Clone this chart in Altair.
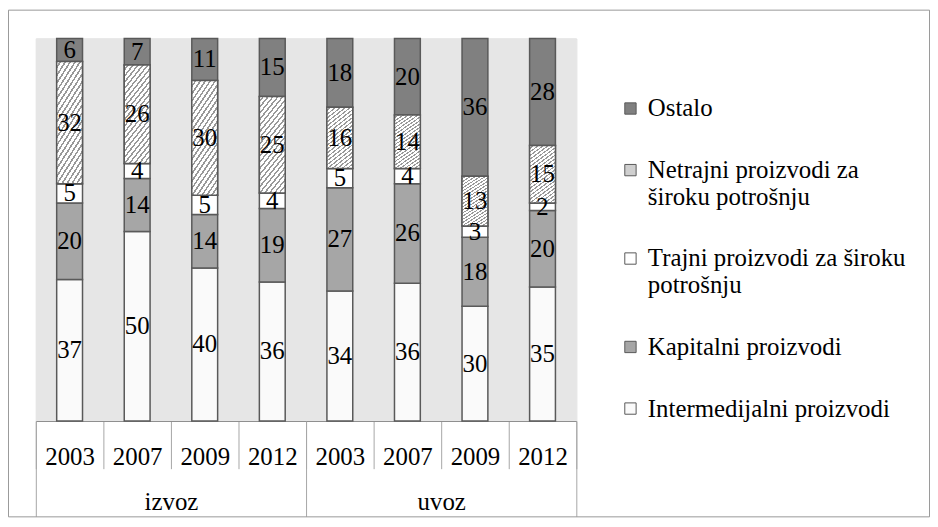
import altair as alt
import pandas as pd

groups = ["izvoz"] * 4 + ["uvoz"] * 4
years = ["2003", "2007", "2009", "2012"] * 2
categories = [
    "Intermedijalni proizvodi",
    "Kapitalni proizvodi",
    "Trajni proizvodi za široku potrošnju",
    "Netrajni proizvodi za široku potrošnju",
    "Ostalo",
]
intermedijalni = [37, 50, 40, 36, 34, 36, 30, 35]
kapitalni = [20, 14, 14, 19, 27, 26, 18, 20]
trajni = [5, 4, 5, 4, 5, 4, 3, 2]
netrajni = [32, 26, 30, 25, 16, 14, 13, 15]
ostalo = [6, 7, 11, 15, 18, 20, 36, 28]
fills = ["#fafafa", "#a6a6a6", "#ffffff", "#cfcfcf", "#808080"]

series = [intermedijalni, kapitalni, trajni, netrajni, ostalo]
rows = []
for ci, (cat, vals) in enumerate(zip(categories, series)):
    for g, y, v in zip(groups, years, vals):
        rows.append({"key": f"{g}|{y}", "group": g, "year": y, "cat": cat,
                     "order": ci, "value": v})
df = pd.DataFrame(rows)
keys = [f"{g}|{y}" for g, y in zip(groups, years)]
group_names = list(dict.fromkeys(groups))
legend_order = categories[::-1]
legend_colors = fills[::-1]

FONT = "Times New Roman, Liberation Serif, serif"

label_expr = (
    "datum.label == 'Netrajni proizvodi za široku potrošnju' ? ['Netrajni proizvodi za', 'široku potrošnju'] : "
    "datum.label == 'Trajni proizvodi za široku potrošnju' ? ['Trajni proizvodi za široku', 'potrošnju'] : datum.label"
)

# diagonal hatch fill (style only) built as a striped linear gradient
N_STRIPES = 21
SLOPE = 3.0
a = (1 + SLOPE) / (1 + SLOPE ** 2)
stops = []
for i in range(N_STRIPES):
    stops += [
        alt.GradientStop(offset=i / N_STRIPES, color="#ffffff"),
        alt.GradientStop(offset=(i + 0.62) / N_STRIPES, color="#ffffff"),
        alt.GradientStop(offset=(i + 0.62) / N_STRIPES, color="#999999"),
        alt.GradientStop(offset=(i + 1) / N_STRIPES, color="#999999"),
    ]
hatch = alt.LinearGradient(gradient="linear", stops=stops, x1=0, y1=0, x2=a, y2=a * SLOPE)

base = alt.Chart(df).transform_stack(
    stack="value", groupby=["key"], as_=["y0", "y1"],
    sort=[alt.SortField("order", order="ascending")], offset="normalize"
).transform_calculate(mid="(datum.y0 + datum.y1) / 2")

xscale = alt.Scale(domain=keys, paddingInner=0, paddingOuter=0)
year_axis = alt.Axis(title=None, labelExpr="split(datum.label, '|')[1]",
                     tickBand="extent", tickSize=48, tickColor="#a6a6a6",
                     domainColor="#8c8c8c", labelFontSize=25, labelFont=FONT,
                     labelColor="black", labelAngle=0, labelBaseline="middle",
                     labelPadding=-12)
yenc = alt.Y("y0:Q", scale=alt.Scale(domain=[0, 1]), axis=None)

bars = base.mark_bar(width=26, stroke="#595959", strokeWidth=1.5).encode(
    x=alt.X("key:N", sort=keys, scale=xscale, axis=year_axis),
    y=yenc,
    y2="y1:Q",
    color=alt.Color("cat:N", scale=alt.Scale(domain=legend_order, range=legend_colors),
                    legend=alt.Legend(title=None, orient="none", legendX=586, legendY=58,
                                      symbolType="square", symbolSize=130,
                                      symbolStrokeColor="#595959", symbolStrokeWidth=1,
                                      labelFontSize=25, labelFont=FONT, labelColor="black",
                                      labelLimit=400, rowPadding=36, labelOffset=5,
                                      labelExpr=label_expr)),
)

hatched = base.transform_filter(
    alt.datum.cat == categories[3]
).mark_bar(width=26, fill=hatch, stroke="#595959", strokeWidth=1.5).encode(
    x=alt.X("key:N", sort=keys, scale=xscale, axis=year_axis),
    y=yenc,
    y2="y1:Q",
)

text = base.mark_text(fontSize=25, font=FONT, color="black", baseline="middle").encode(
    x=alt.X("key:N", sort=keys, scale=xscale, axis=year_axis),
    y=alt.Y("mid:Q", scale=alt.Scale(domain=[0, 1]), axis=None),
    text="value:Q",
)

group_layer = alt.Chart(pd.DataFrame({"group": group_names})).mark_point(opacity=0).encode(
    x=alt.X("group:N", sort=group_names,
            scale=alt.Scale(type="band", domain=group_names, paddingInner=0, paddingOuter=0),
            axis=alt.Axis(orient="bottom", title=None, domain=False, tickBand="extent",
                          tickSize=96, tickColor="#a6a6a6", labelFontSize=25, labelFont=FONT,
                          labelColor="black", labelAngle=0, labelBaseline="middle",
                          labelPadding=-15)),
    y=alt.value(0),
)

one = pd.DataFrame({"f": [0]})
frame = alt.Chart(one).mark_rect(
    fill="transparent", stroke="#999999", strokeWidth=1
).encode(x=alt.value(-27.5), x2=alt.value(899.5), y=alt.value(-28.5), y2=alt.value(481.5))

plot_bg = alt.Chart(one).mark_rect(fill="#e6e6e6", strokeWidth=0).encode(
    x=alt.value(0), x2=alt.value("width"), y=alt.value(0), y2=alt.value("height"))

chart = alt.layer(frame, plot_bg, alt.layer(bars, hatched, text), group_layer).resolve_scale(
    x="independent"
).properties(
    width=544, height=385,
    autosize=alt.AutoSizeParams(type="none"),
    padding={"left": 28, "top": 29, "right": 356, "bottom": 97},
).configure_view(stroke=None).configure(font=FONT)

chart.save("out.html", embed_options={"renderer": "svg", "actions": False})
